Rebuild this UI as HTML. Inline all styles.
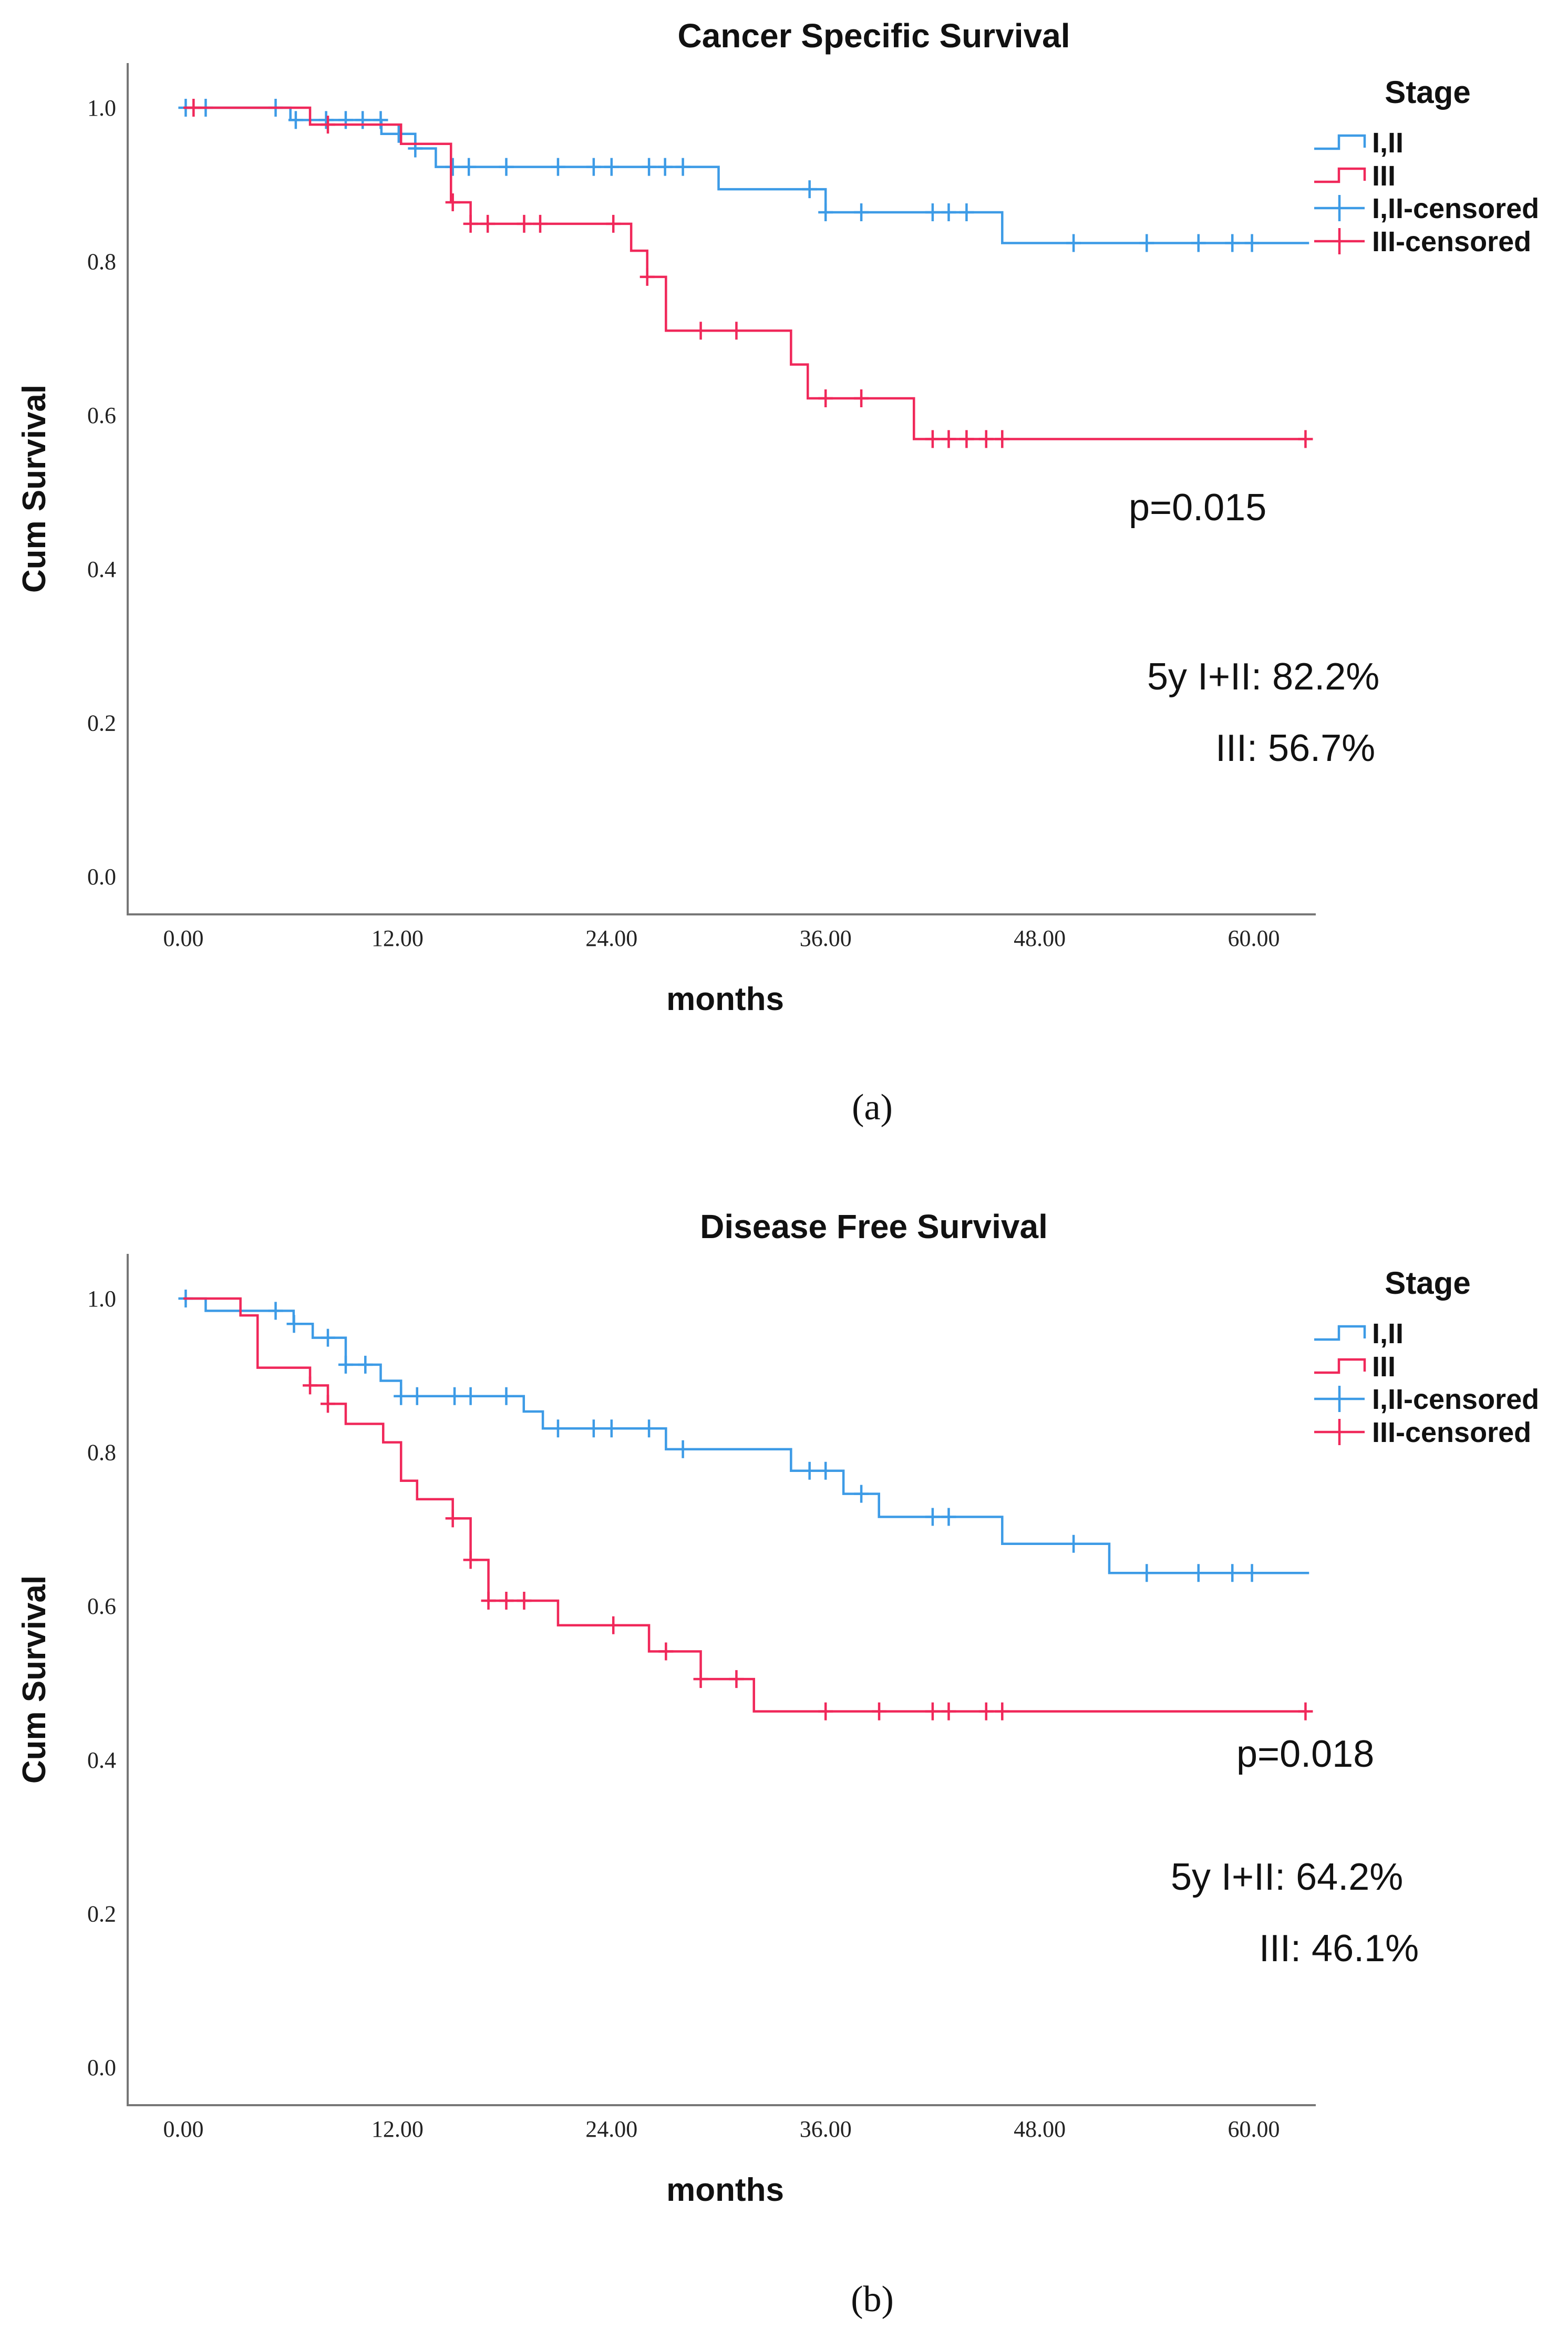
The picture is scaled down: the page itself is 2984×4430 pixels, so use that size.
<!DOCTYPE html>
<html><head><meta charset="utf-8"><style>
html,body{margin:0;padding:0;background:#fff;}
svg{display:block;}
text{font-family:"Liberation Sans Narrow","Liberation Sans",sans-serif;}
.tick{font-family:"Liberation Serif",serif;font-size:44px;fill:#222;}
</style></head><body>
<svg id="fig" width="2984" height="4430" viewBox="0 0 2984 4430" xmlns="http://www.w3.org/2000/svg"></svg>
<script>
// Chart (a) Cancer Specific Survival
const aBlueTimes=[0,6.0,11.1,13.0,14.15,30.0,36.0,45.9,63.1];
const aBlueVals=[1.0,0.984,0.966,0.947,0.923,0.894,0.864,0.824,0.824];
const aBlueCens=[0.13,1.25,5.17,6.3,8.0,9.1,10.05,11.06,12.07,13.0,15.1,16.0,18.1,21.0,23.0,24.0,26.1,27.0,28.0,35.1,36.0,38.0,42.0,42.9,43.9,49.9,54.0,56.9,58.8,59.9];
const aRedTimes=[0,7.1,12.2,15.0,16.1,25.1,26.0,27.05,34.06,35.0,40.95,62.9];
const aRedVals=[1.0,0.978,0.953,0.877,0.849,0.814,0.78,0.71,0.666,0.622,0.569,0.569];
const aRedCens=[0.57,8.1,15.1,16.1,17.06,19.1,20.0,24.1,26.0,29.0,31.0,36.0,38.0,42.0,42.9,43.9,45.0,45.9,62.9];
// Chart (b) Disease Free Survival
const bBlueTimes=[0,1.25,6.18,7.25,9.1,11.06,12.2,19.08,20.15,27.05,34.06,37.0,38.99,45.9,51.9,63.1];
const bBlueVals=[1.0,0.984,0.967,0.949,0.914,0.893,0.873,0.853,0.831,0.804,0.776,0.746,0.716,0.681,0.643,0.643];
const bBlueCens=[0.13,5.17,6.2,8.1,9.1,10.2,12.2,13.1,15.2,16.1,18.1,21.0,23.0,24.0,26.1,28.0,35.1,36.0,38.0,42.0,42.9,49.9,54.0,56.9,58.8,59.9];
const bRedTimes=[0,3.2,4.16,7.1,8.1,9.1,11.2,12.2,13.1,15.1,16.1,17.1,21.0,26.1,29.0,31.98,62.9];
const bRedVals=[1.0,0.978,0.91,0.887,0.863,0.837,0.813,0.763,0.739,0.714,0.66,0.607,0.575,0.541,0.505,0.463,0.463];
const bRedCens=[7.1,8.1,15.1,16.1,17.1,18.1,19.1,24.1,27.05,29.0,31.0,36.0,39.0,42.0,42.9,45.0,45.9,62.9];
const xTicks=["0.00","12.00","24.00","36.00","48.00","60.00"];
const xTickVals=[0,12,24,36,48,60];
const yTicks=["0.0","0.2","0.4","0.6","0.8","1.0"];
const yTickVals=[0,0.2,0.4,0.6,0.8,1.0];

const NS="http://www.w3.org/2000/svg";
const svg=document.getElementById('fig');
const BLUE="#3d9be6", RED="#f0285a";
function mk(tag,attrs,parent){const e=document.createElementNS(NS,tag);for(const k in attrs)e.setAttribute(k,attrs[k]);(parent||svg).appendChild(e);return e;}
function txt(s,attrs,parent){const e=mk('text',attrs,parent);e.textContent=s;return e;}
function stepVal(times,vals,t){let v=vals[0];for(let i=0;i<times.length;i++){if(times[i]<=t+1e-9)v=vals[i];}return v;}

function chart(off,title,blueT,blueV,blueC,redT,redV,redC,pTxt,pPos,fyTxt,fyPos,iiiTxt,iiiPos,label,labelY,key){
  const g=mk('g',{});
  
  
  const X=m=>349+m*33.95;
  const Y=v=>off+1668-v*1463;
  const t=txt(title,{x:1663,y:off+90,'text-anchor':'middle','font-size':64,'font-weight':'bold',fill:'#111'},g);
  
  
  const ax=mk('path',{d:`M243 ${off+120} V${off+1740} H2504`,stroke:'#777','stroke-width':4,fill:'none'},g);
  
  
  yTickVals.forEach((v,i)=>{const e=txt(yTicks[i],{x:221,y:Y(v)+15,'text-anchor':'end',class:'tick'},g);
    
    });
  xTickVals.forEach((v,i)=>{const e=txt(xTicks[i],{x:X(v),y:off+1800,'text-anchor':'middle',class:'tick'},g);
    
    });
  const xl=txt('months',{x:1380,y:off+1922,'text-anchor':'middle','font-size':62,'font-weight':'bold',fill:'#111'},g);
  
  
  const yl=txt('Cum Survival',{x:0,y:0,transform:`translate(86 ${off+930}) rotate(-90)`,'text-anchor':'middle','font-size':62,'font-weight':'bold',fill:'#111'},g);
  
  
  function series(T,V,C,col,name){
    let d=`M${X(T[0])} ${Y(V[0])}`;
    for(let i=1;i<T.length;i++){d+=` H${X(T[i])} V${Y(V[i])}`;}
    const p=mk('path',{d:d,stroke:col,'stroke-width':4.5,fill:'none'},g);
    
    
    C.forEach(c=>{const x=X(c),y=Y(stepVal(T,V,c));
      const m=mk('path',{d:`M${x} ${y-17} V${y+17} M${x-14} ${y} H${x+14}`,stroke:col,'stroke-width':4.5},g);
      
      });
  }
  series(blueT,blueV,blueC,BLUE,'stage-i-ii');
  series(redT,redV,redC,RED,'stage-iii');
  const lg=mk('g',{},g);
  
  
  txt('Stage',{x:2717,y:off+196,'text-anchor':'middle','font-size':60,'font-weight':'bold',fill:'#111'},lg);
  const ys=[271,334,396,459];
  const labs=['I,II','III','I,II-censored','III-censored'];
  const cols=[BLUE,RED,BLUE,RED];
  ys.forEach((yy,i)=>{const y=off+yy;
    const s=i<2?mk('path',{d:`M2501 ${y+12} H2548 V${y-13} H2597 V${y+10}`,stroke:cols[i],'stroke-width':4.5,fill:'none'},lg)
               :mk('path',{d:`M2501 ${y} H2597 M2549 ${y-25} V${y+25}`,stroke:cols[i],'stroke-width':4.5,fill:'none'},lg);
    
    
    const e=txt(labs[i],{x:2611,y:y+19,'font-size':54,'font-weight':'bold',fill:'#111'},lg);
    
    
  });
  const a1=txt(pTxt,{x:pPos[0],y:off+pPos[1],'font-size':72,fill:'#111'},g);
  
  
  const a2=txt(fyTxt,{x:fyPos[0],y:off+fyPos[1],'font-size':72,fill:'#111'},g);
  
  
  const a3=txt(iiiTxt,{x:iiiPos[0],y:off+iiiPos[1],'font-size':72,fill:'#111'},g);
  
  
  const lb=txt(label,{x:1660,y:labelY,'text-anchor':'middle','font-size':70,fill:'#111'},g);
  
  
  lb.style.fontFamily='"Liberation Serif",serif';
}
chart(0,'Cancer Specific Survival',aBlueTimes,aBlueVals,aBlueCens,aRedTimes,aRedVals,aRedCens,
  'p=0.015',[2148,990],'5y I+II: 82.2%',[2183,1312],'III: 56.7%',[2313,1448],'(a)',2130,'a');
chart(2266,'Disease Free Survival',bBlueTimes,bBlueVals,bBlueCens,bRedTimes,bRedVals,bRedCens,
  'p=0.018',[2353,1096],'5y I+II: 64.2%',[2228,1330],'III: 46.1%',[2396,1466],'(b)',4398,'b');
</script>
</body></html>
